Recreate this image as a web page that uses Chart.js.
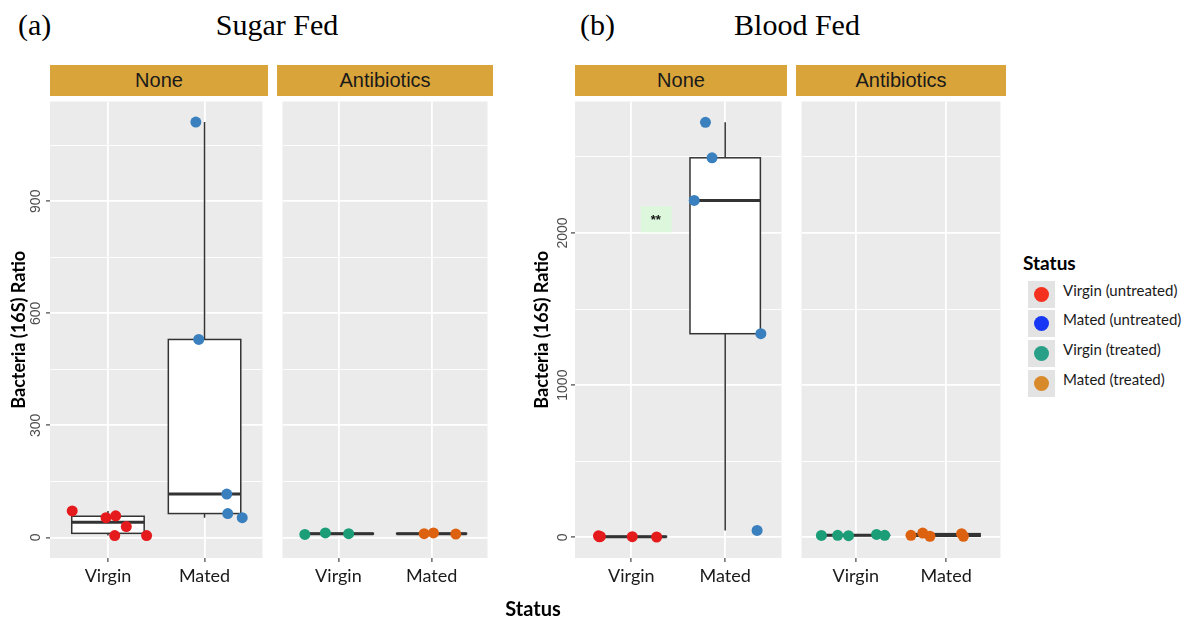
<!DOCTYPE html>
<html>
<head>
<meta charset="utf-8">
<script src="https://cdn.jsdelivr.net/npm/chart.js@4.4.0/dist/chart.umd.min.js"></script>
<style>
  body { margin: 0; width: 1187px; height: 622px; position: relative; overflow: hidden; background: #fff; }
  canvas { position: absolute; }
  .ttl { position: absolute; top: 10px; font: 30px/30px "Liberation Serif", serif; color: #000; white-space: nowrap; }
  .strip { position: absolute; top: 65px; height: 31px; line-height: 31px; background: #d9a43a;
           text-align: center; font-family: "Liberation Sans", sans-serif; font-size: 20px; color: #1a1a1a; }
  .xtitle { position: absolute; left: 533px; top: 596px; transform: translateX(-50%);
            font: bold 20px/24px Lato, sans-serif; color: #000; }
  .lg-title { position: absolute; left: 1023px; top: 253px; font: bold 19px/19px Lato, sans-serif; color: #000; }
  .lg-key { position: absolute; left: 1028px; width: 27px; height: 27px; background: #e3e3e3; }
  .lg-key span { position: absolute; left: 6px; top: 6px; width: 15px; height: 15px; border-radius: 50%; }
  .lg-label { position: absolute; left: 1063px; height: 27px; line-height: 27px; font: 15px Lato, sans-serif; color: #1a1a1a; white-space: nowrap; }
</style>
</head>
<body>
<div class="ttl" style="left:18px">(a)</div>
<div class="ttl" style="left:277px; transform:translateX(-50%)">Sugar Fed</div>
<div class="ttl" style="left:580px">(b)</div>
<div class="ttl" style="left:797px; transform:translateX(-50%)">Blood Fed</div>

<canvas id="sugarNone" width="268" height="526" style="left:0; top:96px"></canvas>
<canvas id="sugarAb" width="216" height="526" style="left:277px; top:96px"></canvas>
<canvas id="bloodNone" width="267" height="526" style="left:520px; top:96px"></canvas>
<canvas id="bloodAb" width="210" height="526" style="left:796px; top:96px"></canvas>

<div class="xtitle">Status</div>
<div id="legend"></div>

<script>
// categories
const statusNames = ['Virgin', 'Mated'];
const treatmentNames = ['None', 'Antibiotics'];

// Sugar fed: 16S ratio per mosquito, with horizontal jitter (category units)
const sugarVirginNone = [71, 53, 58, 29, 5, 5];
const sugarVirginNoneJitter = [-0.37, -0.02, 0.08, 0.19, 0.07, 0.40];
const sugarMatedNone = [1112, 530, 116, 64, 53];
const sugarMatedNoneJitter = [-0.09, -0.06, 0.23, 0.24, 0.39];
const sugarVirginAb = [8, 12, 10];
const sugarVirginAbJitter = [-0.36, -0.14, 0.11];
const sugarMatedAb = [10, 12, 9];
const sugarMatedAbJitter = [-0.08, 0.02, 0.26];

// Blood fed
const bloodVirginNone = [10, 6, 3, 4, 2];
const bloodVirginNoneJitter = [-0.35, -0.33, -0.34, 0.01, 0.27];
const bloodMatedNone = [2727, 2494, 2214, 1338, 45];
const bloodMatedNoneJitter = [-0.21, -0.14, -0.33, 0.38, 0.34];
const bloodVirginAb = [12, 13, 11, 19, 13];
const bloodVirginAbJitter = [-0.38, -0.20, -0.08, 0.23, 0.32];
const bloodMatedAb = [13, 28, 7, 24, 7];
const bloodMatedAbJitter = [-0.39, -0.26, -0.18, 0.17, 0.19];

// axis ticks
const sugarTicks = [0, 300, 600, 900];
const sugarGrid = [0, 150, 300, 450, 600, 750, 900, 1050];
const bloodTicks = [0, 1000, 2000];
const bloodGrid = [0, 500, 1000, 1500, 2000, 2500];

// legend
const legendLabels = ['Virgin (untreated)', 'Mated (untreated)', 'Virgin (treated)', 'Mated (treated)'];
const legendColors = ['#f4301f', '#1638f5', '#28a087', '#d8892a'];

const pointColors = { virginNone: '#e41a1c', matedNone: '#3a80be', virginAb: '#1b9e77', matedAb: '#dd6210' };

function quantile(sorted, p) {
  const h = (sorted.length - 1) * p;
  const lo = Math.floor(h);
  const hi = Math.min(lo + 1, sorted.length - 1);
  return sorted[lo] + (h - lo) * (sorted[hi] - sorted[lo]);
}

function jittered(values, jitter, group) {
  return values.map((v, i) => ({ x: group + jitter[i], y: v }));
}

function pointSet(values, jitter, group, color) {
  return {
    data: jittered(values, jitter, group),
    group: group,
    backgroundColor: color,
    pointRadius: 5.5,
    pointBorderWidth: 0,
    pointHoverRadius: 5.5,
    clip: false
  };
}

// grey panel behind the grid
const panelBg = {
  id: 'panelBg',
  beforeDraw(chart) {
    const { ctx, chartArea: a } = chart;
    ctx.save();
    ctx.fillStyle = '#ebebeb';
    ctx.fillRect(a.left, a.top, a.right - a.left, a.bottom - a.top);
    ctx.restore();
  }
};

// box and whiskers for each point group, under the points
const boxes = {
  id: 'boxes',
  beforeDatasetsDraw(chart) {
    const { ctx, scales: { x, y } } = chart;
    ctx.save();
    chart.data.datasets.forEach(ds => {
      const vals = ds.data.map(p => p.y).sort((a, b) => a - b);
      const q1 = quantile(vals, 0.25), med = quantile(vals, 0.5), q3 = quantile(vals, 0.75);
      const iqr = q3 - q1;
      const lo = vals.find(v => v >= q1 - 1.5 * iqr);
      const hi = vals.slice().reverse().find(v => v <= q3 + 1.5 * iqr);
      const xl = x.getPixelForValue(ds.group - 0.375);
      const xr = x.getPixelForValue(ds.group + 0.375);
      const xc = x.getPixelForValue(ds.group);
      ctx.strokeStyle = '#333333';
      ctx.lineWidth = 1.5;
      ctx.beginPath();
      ctx.moveTo(xc, y.getPixelForValue(q3));
      ctx.lineTo(xc, y.getPixelForValue(hi));
      ctx.moveTo(xc, y.getPixelForValue(q1));
      ctx.lineTo(xc, y.getPixelForValue(lo));
      ctx.stroke();
      const yt = y.getPixelForValue(q3), yb = y.getPixelForValue(q1);
      ctx.fillStyle = '#ffffff';
      ctx.fillRect(xl, yt, xr - xl, yb - yt);
      ctx.lineWidth = 1.5;
      ctx.strokeRect(xl, yt, xr - xl, yb - yt);
      ctx.lineWidth = 3;
      ctx.beginPath();
      ctx.moveTo(xl, y.getPixelForValue(med));
      ctx.lineTo(xr, y.getPixelForValue(med));
      ctx.stroke();
    });
    ctx.restore();
  }
};

// rotated y tick labels (reading upwards)
function sideTicks(values, offset) {
  return {
    id: 'sideTicks',
    afterDraw(chart) {
      const { ctx, chartArea, scales: { y } } = chart;
      ctx.save();
      ctx.font = '14px "Liberation Sans", sans-serif';
      ctx.fillStyle = '#4d4d4d';
      ctx.textAlign = 'center';
      ctx.textBaseline = 'middle';
      values.forEach(v => {
        ctx.save();
        ctx.translate(chartArea.left - offset, y.getPixelForValue(v));
        ctx.rotate(-Math.PI / 2);
        ctx.fillText(String(v), 0, 0);
        ctx.restore();
      });
      ctx.restore();
    }
  };
}

// significance tag
function starMark(xVal, yVal, text) {
  return {
    id: 'starMark',
    afterDatasetsDraw(chart) {
      const { ctx, scales: { x, y } } = chart;
      const px = x.getPixelForValue(xVal), py = y.getPixelForValue(yVal);
      ctx.save();
      ctx.fillStyle = '#dcf7dc';
      ctx.fillRect(px - 15, py - 13, 31, 26);
      ctx.fillStyle = '#111';
      ctx.font = 'bold 13px "Liberation Sans", sans-serif';
      ctx.textAlign = 'center';
      ctx.textBaseline = 'middle';
      ctx.fillText(text, px, py + 1);
      ctx.restore();
    }
  };
}

function facet(id, cfg) {
  const withAxis = cfg.axisWidth > 0;
  const isMajor = c => c.tick && cfg.major.includes(c.tick.value);
  const plugins = [panelBg, boxes];
  if (withAxis) plugins.push(sideTicks(cfg.major, cfg.labelOffset));
  if (cfg.mark) plugins.push(starMark(cfg.mark.x, cfg.mark.y, cfg.mark.text));

  return new Chart(document.getElementById(id), {
    type: 'scatter',
    data: { datasets: cfg.datasets },
    options: {
      responsive: false,
      animation: false,
      events: [],
      layout: { padding: 0 },
      plugins: { legend: { display: false }, tooltip: { enabled: false } },
      scales: {
        x: {
          type: 'linear',
          min: 0.4,
          max: 2.6,
          afterBuildTicks: s => { s.ticks = statusNames.map((_, i) => ({ value: i + 1 })); },
          afterFit: s => { s.height = 64; },
          ticks: {
            callback: (v, i) => statusNames[i],
            font: { family: 'Lato', size: 18 },
            color: '#1a1a1a',
            padding: 3,
            autoSkip: false,
            maxRotation: 0
          },
          border: { display: false },
          grid: { color: '#ffffff', lineWidth: 1.8, tickLength: 4, tickWidth: 1.1, tickColor: '#333333' }
        },
        y: {
          type: 'linear',
          min: cfg.yMin,
          max: cfg.yMax,
          afterBuildTicks: s => { s.ticks = cfg.grid.map(v => ({ value: v })); },
          afterFit: s => { s.width = cfg.axisWidth; },
          ticks: { display: false },
          border: { display: false },
          grid: {
            color: '#ffffff',
            lineWidth: c => isMajor(c) ? 1.8 : 0.9,
            drawTicks: withAxis,
            tickLength: 4,
            tickWidth: 1.1,
            tickColor: c => isMajor(c) ? '#333333' : 'rgba(0,0,0,0)'
          },
          title: {
            display: withAxis,
            text: 'Bacteria (16S) Ratio',
            font: { family: 'Lato', size: 18, weight: 'bold' },
            color: '#000000',
            padding: { top: cfg.titlePad || 0, bottom: 0 }
          }
        }
      }
    },
    plugins: plugins
  });
}

facet('sugarNone', {
  yMin: -55, yMax: 1167, grid: sugarGrid, major: sugarTicks,
  axisWidth: 50, labelOffset: 14, titlePad: 8,
  datasets: [
    pointSet(sugarVirginNone, sugarVirginNoneJitter, 1, pointColors.virginNone),
    pointSet(sugarMatedNone, sugarMatedNoneJitter, 2, pointColors.matedNone)
  ]
});
facet('sugarAb', {
  yMin: -55, yMax: 1167, grid: sugarGrid, major: sugarTicks, axisWidth: 0,
  datasets: [
    pointSet(sugarVirginAb, sugarVirginAbJitter, 1, pointColors.virginAb),
    pointSet(sugarMatedAb, sugarMatedAbJitter, 2, pointColors.matedAb)
  ]
});
facet('bloodNone', {
  yMin: -136, yMax: 2864, grid: bloodGrid, major: bloodTicks,
  axisWidth: 55, labelOffset: 12, titlePad: 11,
  mark: { x: 1.26, y: 2090, text: '**' },
  datasets: [
    pointSet(bloodVirginNone, bloodVirginNoneJitter, 1, pointColors.virginNone),
    pointSet(bloodMatedNone, bloodMatedNoneJitter, 2, pointColors.matedNone)
  ]
});
facet('bloodAb', {
  yMin: -136, yMax: 2864, grid: bloodGrid, major: bloodTicks, axisWidth: 0,
  datasets: [
    pointSet(bloodVirginAb, bloodVirginAbJitter, 1, pointColors.virginAb),
    pointSet(bloodMatedAb, bloodMatedAbJitter, 2, pointColors.matedAb)
  ]
});

// facet strips
[[0, 50, 218], [1, 277, 216], [0, 575, 212], [1, 796, 210]].forEach(([t, left, w]) => {
  const d = document.createElement('div');
  d.className = 'strip';
  d.style.left = left + 'px';
  d.style.width = w + 'px';
  d.textContent = treatmentNames[t];
  document.body.appendChild(d);
});

// legend
const legend = document.getElementById('legend');
const lgTitle = document.createElement('div');
lgTitle.className = 'lg-title';
lgTitle.textContent = 'Status';
legend.appendChild(lgTitle);
const rowTops = [281, 310, 340, 370];
legendLabels.forEach((label, i) => {
  const key = document.createElement('div');
  key.className = 'lg-key';
  key.style.top = rowTops[i] + 'px';
  const dot = document.createElement('span');
  dot.style.background = legendColors[i];
  key.appendChild(dot);
  legend.appendChild(key);
  const txt = document.createElement('div');
  txt.className = 'lg-label';
  txt.style.top = rowTops[i] + 'px';
  txt.textContent = label;
  legend.appendChild(txt);
});
</script>
</body>
</html>
